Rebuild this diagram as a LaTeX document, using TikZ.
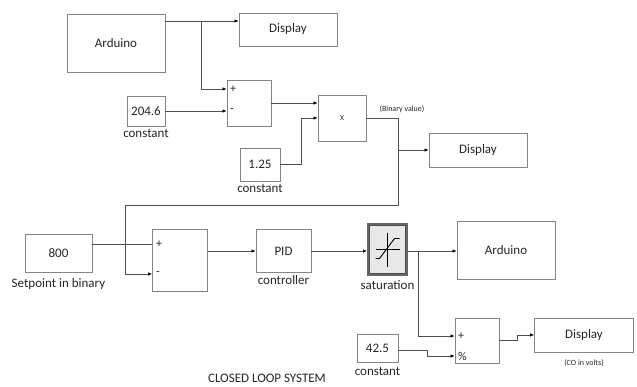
\documentclass[tikz,border=0pt]{standalone}
\usepackage{fontspec}
\setmainfont{Carlito}
\usepackage{tikz}
\usetikzlibrary{arrows.meta,positioning,calc}
\definecolor{cbox}{HTML}{858585}
\definecolor{cline}{HTML}{4D4D4D}
\definecolor{ctext}{HTML}{262626}
\definecolor{csat}{HTML}{666666}
\definecolor{csatF}{HTML}{E8E8E8}
\tikzset{
  blk/.style={draw=cbox, line width=0.8pt, inner sep=0pt, text=ctext,
              font=\fontsize{13}{15}\selectfont},
  lbl/.style={inner sep=0pt, text=ctext, font=\fontsize{13}{15}\selectfont},
  note/.style={inner sep=0pt, text=ctext, font=\fontsize{8}{9}\selectfont},
  sgn/.style={inner sep=0pt, text=ctext, font=\fontsize{12}{14}\selectfont, anchor=west},
  satbox/.style={draw=csat, line width=2pt, fill=csatF, inner sep=0pt},
  flow/.style={-{Latex[length=4pt,width=3.5pt,color=black]}, draw=cline, line width=0.7pt},
  wire/.style={draw=cline, line width=0.7pt},
}
\begin{document}
\begin{tikzpicture}[x=1pt, y=-1pt]
  \useasboundingbox (0,0) rectangle (637,386);
  % upper part: measured value
  \node[blk, minimum width=98pt, minimum height=58pt] (ard1) at (116,43) {Arduino};
  \node[blk, minimum width=98pt, minimum height=33pt] (disp1) at (288,29.5) {Display};
  \node[blk, minimum width=44pt, minimum height=46pt] (sum1) at (249,103) {};
  \node[sgn] (s1p) at (230,89) {+};
  \node[sgn] (s1m) at (230,111) {-};
  \node[blk, minimum width=38pt, minimum height=30pt] (c1) at (146,111) {204.6};
  \node[lbl, below=3pt of c1] (c1l) {constant};
  \node[blk, minimum width=48pt, minimum height=46pt, font=\fontsize{7.5}{8}\selectfont] (mult) at (342,118) {X};
  \node[blk, minimum width=40pt, minimum height=33pt] (c2) at (260,164.5) {1.25};
  \node[lbl, below=3pt of c2] (c2l) {constant};
  \node[note] (binv) at (402,109) {(Binary value)};
  \node[blk, minimum width=98pt, minimum height=34pt] (disp2) at (478,150) {Display};
  \coordinate (a1) at (165,21);
  \coordinate (b1) at (201,21);
  \coordinate (k2) at (301,118);
  \coordinate (fb1) at (398,118);
  \coordinate (fb2) at (398,205);
  \coordinate (fb3) at (125,205);
  \draw[flow] (a1) -- (a1 -| disp1.west);
  \draw[flow] (b1) |- (sum1.west |- s1p);
  \draw[flow] (c1.east) -- (c1.east -| sum1.west);
  \draw[flow] (sum1.east) -- (sum1.east -| mult.west);
  \draw[flow] (c2.east) -| (k2) -- (mult.west);
  \draw[wire] (mult.east) -- (fb1) -- (fb2) -- (fb3);
  \draw[flow] (fb1 |- disp2.west) -- (disp2.west);
  % lower part: control loop
  \node[blk, minimum width=67pt, minimum height=38pt] (sp) at (58.5,253) {800};
  \node[lbl, below=6pt of sp] (spl) {Setpoint in binary};
  \node[blk, minimum width=55pt, minimum height=62pt] (sum2) at (180,260) {};
  \node[sgn] (s2p) at (156,244) {+};
  \node[sgn] (s2m) at (156,274) {-};
  \node[blk, minimum width=55pt, minimum height=43pt] (pid) at (283.5,251) {PID};
  \node[lbl, below=2pt of pid] (pidl) {controller};
  \node[satbox, minimum width=39pt, minimum height=51pt] (sat) at (387.5,249.5) {};
  \node[lbl, below=4pt of sat] (satl) {saturation};
  \node[blk, minimum width=98pt, minimum height=58pt] (ard2) at (506,250) {Arduino};
  \node[blk, minimum width=44pt, minimum height=45pt] (sum3) at (477,340.5) {};
  \node[sgn] (s3p) at (458,336) {+};
  \node[sgn] (s3m) at (458,356) {\%};
  \node[blk, minimum width=41pt, minimum height=28pt] (c3) at (377.5,348) {42.5};
  \node[lbl, below=5pt of c3] (c3l) {constant};
  \node[blk, minimum width=99pt, minimum height=34pt] (disp3) at (584,335) {Display};
  \node[note, below=7pt of disp3] (disp3l) {(CO in volts)};
  \node[lbl] (ttl) at (267,378) {CLOSED LOOP SYSTEM};
  % saturation icon
  \draw[draw=black!70, line width=0.5pt] ($(sat.north west)+(2.5,2.5)$) rectangle ($(sat.south east)+(-2.5,-2.5)$);
  \draw[black, line width=0.6pt] ($(sat)+(-12,0)$) -- ($(sat)+(12,0)$);
  \draw[black, line width=0.6pt] ($(sat)+(0,-17)$) -- ($(sat)+(0,17)$);
  \draw[black, line width=0.9pt] ($(sat)+(-12,9)$) -- ($(sat)+(-8,9)$) -- ($(sat)+(7,-11)$) -- ($(sat)+(12,-11)$);
  \coordinate (b2) at (418,251);
  \coordinate (k3) at (427,350);
  \coordinate (k4) at (517,340.5);
  \draw[wire] (sp.east |- s2p) -- (sum2.west |- s2p);
  \draw[flow] (fb3) |- (sum2.west |- s2m);
  \draw[flow] (sum2.east |- pid) -- (pid.west);
  \draw[flow] (pid.east) -- (pid.east -| sat.west);
  \draw[flow] (sat.east |- pid) -- (ard2.west |- pid);
  \draw[flow] (b2) |- (sum3.west |- s3p);
  \draw[flow] (c3.east |- k3) -- (k3) |- (sum3.west |- s3m);
  \draw[flow] (sum3.east) -- (k4) |- (disp3.west);
\end{tikzpicture}
\end{document}
